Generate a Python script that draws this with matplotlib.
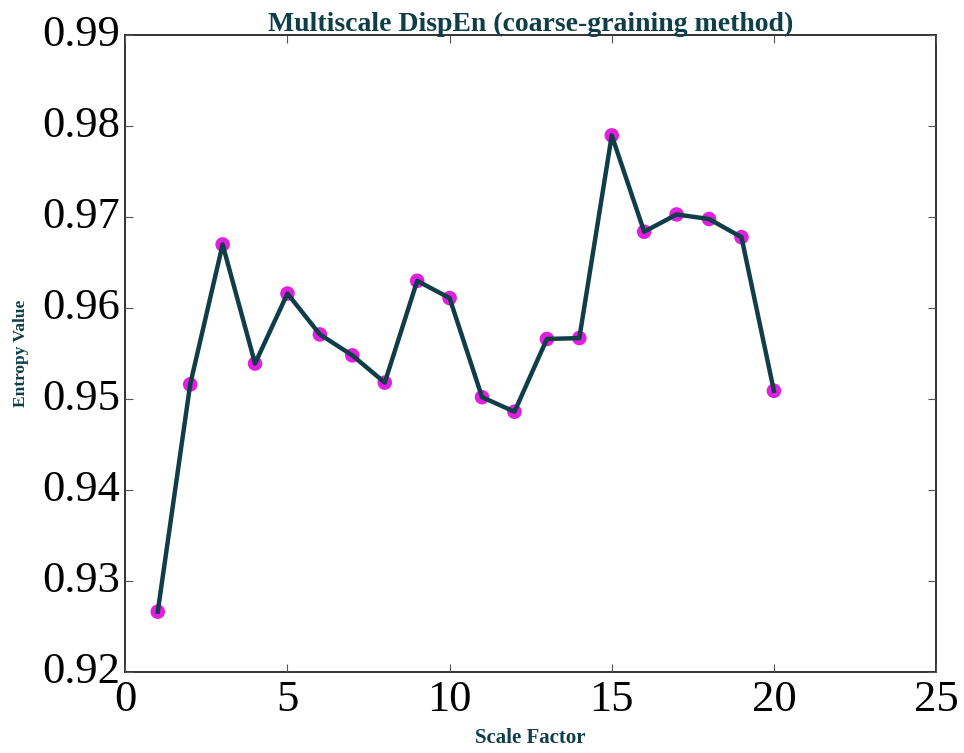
import matplotlib
matplotlib.use("Agg")
import matplotlib.pyplot as plt

# multiscale dispersion entropy per scale factor
scales = list(range(1, 21))
entropy = [0.9266, 0.9516, 0.9670, 0.9539, 0.9616, 0.9571, 0.9548, 0.9518,
           0.9630, 0.9611, 0.9502, 0.9486, 0.9566, 0.9567, 0.9790, 0.9684,
           0.9703, 0.9698, 0.9678, 0.9509]

x_ticks = [0, 5, 10, 15, 20, 25]
y_ticks = [0.92, 0.93, 0.94, 0.95, 0.96, 0.97, 0.98, 0.99]

plt.style.use("classic")
plt.rcParams['font.family'] = ['Liberation Serif', 'DejaVu Serif']

LINE_COLOR = '#0f3e48'
DOT_COLOR = '#e11fe0'

fig = plt.figure(figsize=(9.64, 7.53), dpi=100, facecolor='white')
ax = fig.add_axes([0.130, 0.108, 0.841, 0.845])

ax.scatter(scales, entropy, s=110, color=DOT_COLOR, edgecolors='none', zorder=2)
ax.plot(scales, entropy, color=LINE_COLOR, linewidth=3.2, zorder=3)

ax.set_xlim(0, 25)
ax.set_ylim(0.92, 0.99)
ax.set_xticks(x_ticks)
ax.set_yticks(y_ticks)
ax.set_xticklabels([str(t) for t in x_ticks])
ax.set_yticklabels([f"{t:.2f}" for t in y_ticks])
ax.tick_params(labelsize=32, direction='in', length=6, width=0.8, color='#555555')
ax.tick_params(axis='x', pad=6)

for side in ax.spines.values():
    side.set_linewidth(1.3)
    side.set_color('#222222')

ax.set_title('Multiscale DispEn (coarse-graining method)', fontsize=20,
             fontweight='bold', color=LINE_COLOR, pad=3)
ax.set_xlabel('Scale Factor', fontsize=15, fontweight='bold', color=LINE_COLOR, labelpad=6)
ax.set_ylabel('Entropy Value', fontsize=12.5, fontweight='bold', color=LINE_COLOR, labelpad=9)

fig.savefig('out.png', dpi=100, facecolor='white')
